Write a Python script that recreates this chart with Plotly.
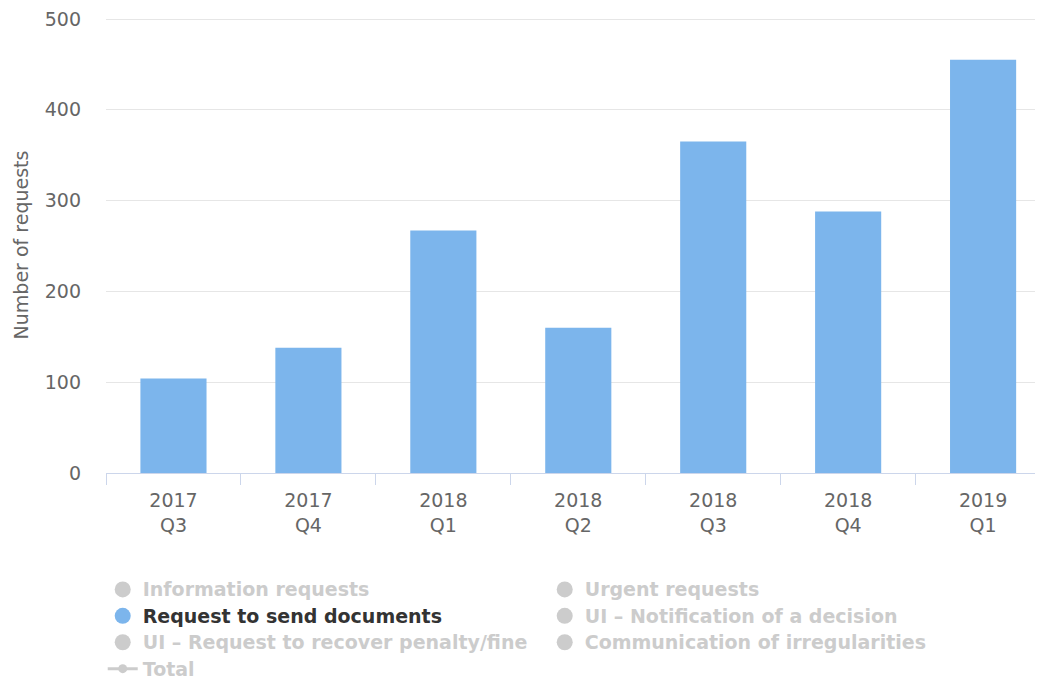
import plotly.graph_objects as go

categories = ["2017<br>Q3", "2017<br>Q4", "2018<br>Q1", "2018<br>Q2", "2018<br>Q3", "2018<br>Q4", "2019<br>Q1"]
send_documents = [104, 138, 267, 160, 365, 288, 455]
y_ticks = [0, 100, 200, 300, 400, 500]

legend_names = [
    "Information requests",
    "Urgent requests",
    "Request to send documents",
    "UI – Notification of a decision",
    "UI – Request to recover penalty/fine",
    "Communication of irregularities",
]
active_series = "Request to send documents"

BLUE = "#7cb5ec"
GREY = "#cccccc"
FONT = "DejaVu Sans"


def legend_label(text, color):
    return f"<span style='font-size:19px;color:{color}'>{text}</span>"


fig = go.Figure()

fig.add_trace(go.Bar(
    x=categories, y=send_documents, name=active_series,
    marker=dict(color=BLUE, line=dict(width=0)),
    showlegend=False, legendgroup="send",
))

for name in legend_names:
    active = name == active_series
    fig.add_trace(go.Scatter(
        x=[None], y=[None], mode="markers",
        name=legend_label(name, "#333333" if active else GREY),
        marker=dict(symbol="circle", size=16, color=BLUE if active else GREY),
        legendgroup="send" if active else name,
        hoverinfo="skip",
    ))

fig.add_trace(go.Scatter(
    x=[None], y=[None], mode="lines+markers",
    name=legend_label("Total", GREY),
    line=dict(color=GREY, width=3),
    marker=dict(symbol="circle", size=9, color=GREY),
    hoverinfo="skip",
))

# page body has an 8px margin; figure is sized so the page fills 1043x682
fig.update_layout(
    width=1035, height=674,
    margin=dict(l=97.5, r=0, t=9, b=209, autoexpand=False),
    paper_bgcolor="white", plot_bgcolor="white",
    font=dict(family=FONT, color="#666666", size=19),
    bargap=0.51,
    showlegend=True,
    legend=dict(
        orientation="h", x=-0.0035, xanchor="left", y=-0.2155, yanchor="top",
        entrywidth=397, entrywidthmode="pixels",
        font=dict(family=FONT, size=18, color="#333333", weight="bold"),
        itemclick=False, itemdoubleclick=False,
        tracegroupgap=0, bgcolor="rgba(0,0,0,0)",
    ),
    xaxis=dict(
        type="category", range=[-0.5, 6.444],
        showline=True, linecolor="#ccd6eb", linewidth=1,
        ticks="outside", tickson="boundaries", ticklen=11, tickcolor="#ccd6eb",
        showgrid=False, tickfont=dict(size=19, color="#666666"),
        ticklabelstandoff=10,
        automargin=False,
    ),
    yaxis=dict(
        range=[0, 502.2], tickvals=y_ticks,
        showgrid=True, gridcolor="#e6e6e6", gridwidth=1,
        zeroline=False, showline=False, ticks="",
        ticklabelstandoff=24, ticklabeloverflow="allow",
        tickfont=dict(size=19, color="#666666"),
        title=dict(text="Number of requests", font=dict(size=19, color="#666666"), standoff=11),
        automargin=False,
    ),
)

fig.write_html("out.html")
